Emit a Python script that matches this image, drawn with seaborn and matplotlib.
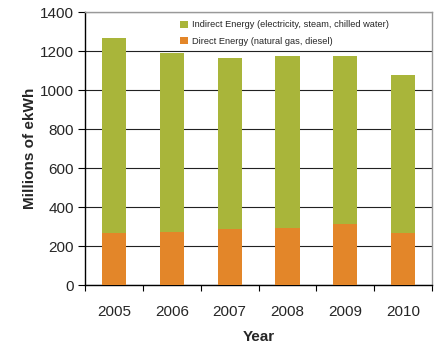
import matplotlib
matplotlib.use("Agg")
import matplotlib.pyplot as plt
import seaborn as sns
import pandas as pd

years = ["2005", "2006", "2007", "2008", "2009", "2010"]
direct = [267, 272, 286, 292, 313, 267]
indirect = [1000, 918, 878, 882, 861, 808]
totals = [d + i for d, i in zip(direct, indirect)]

df = pd.DataFrame({"Year": years, "Direct": direct, "Total": totals})

sns.set_style("white")
plt.rcParams['font.family'] = ['Liberation Sans', 'DejaVu Sans']

fig = plt.figure(figsize=(4.39, 3.46), dpi=100)
ax = fig.add_axes([0.194, 0.176, 0.79, 0.789])

green = "#A9B53A"
orange = "#E38629"

sns.barplot(data=df, x="Year", y="Total", color=green, width=0.42,
            saturation=1, ax=ax, linewidth=0, edgecolor="none",
            label="Indirect Energy (electricity, steam, chilled water)", zorder=3)
sns.barplot(data=df, x="Year", y="Direct", color=orange, width=0.42,
            saturation=1, ax=ax, linewidth=0, edgecolor="none",
            label="Direct Energy (natural gas, diesel)", zorder=3)

ax.set_ylim(0, 1400)
ax.set_xlim(-0.5, 5.5)
ax.set_yticks(range(0, 1401, 200))
ax.yaxis.grid(True, color="#222222", linewidth=0.8, zorder=0)
ax.set_axisbelow(True)

ax.set_xticks(range(6))
ax.set_xticklabels(years, fontsize=11)
ax.set_xticks([i - 0.5 for i in range(7)], minor=True)
ax.tick_params(axis="x", which="major", length=0, pad=14)
ax.tick_params(axis="x", which="minor", length=4, width=0.8, color="black", direction="out")
ax.tick_params(axis="y", which="major", length=5, width=0.8, color="black", direction="out", labelsize=11, pad=3)
ax.xaxis.set_ticks_position("bottom")
ax.yaxis.set_ticks_position("left")

ax.set_xlabel("Year", fontsize=11, fontweight="bold", labelpad=8)
ax.set_ylabel("Millions of ekWh", fontsize=11, fontweight="bold")
ax.yaxis.set_label_coords(-0.14, 0.5)

for s in ["left", "bottom"]:
    ax.spines[s].set_color("black")
    ax.spines[s].set_linewidth(1.0)
for s in ["top", "right"]:
    ax.spines[s].set_color("#999999")
    ax.spines[s].set_linewidth(1.0)

ax.legend(loc="upper left", bbox_to_anchor=(0.25, 1.0), frameon=False, fontsize=6.7,
          handlelength=0.8, handleheight=0.8, handletextpad=0.5, labelspacing=0.8)

fig.savefig("out.png", dpi=100)
